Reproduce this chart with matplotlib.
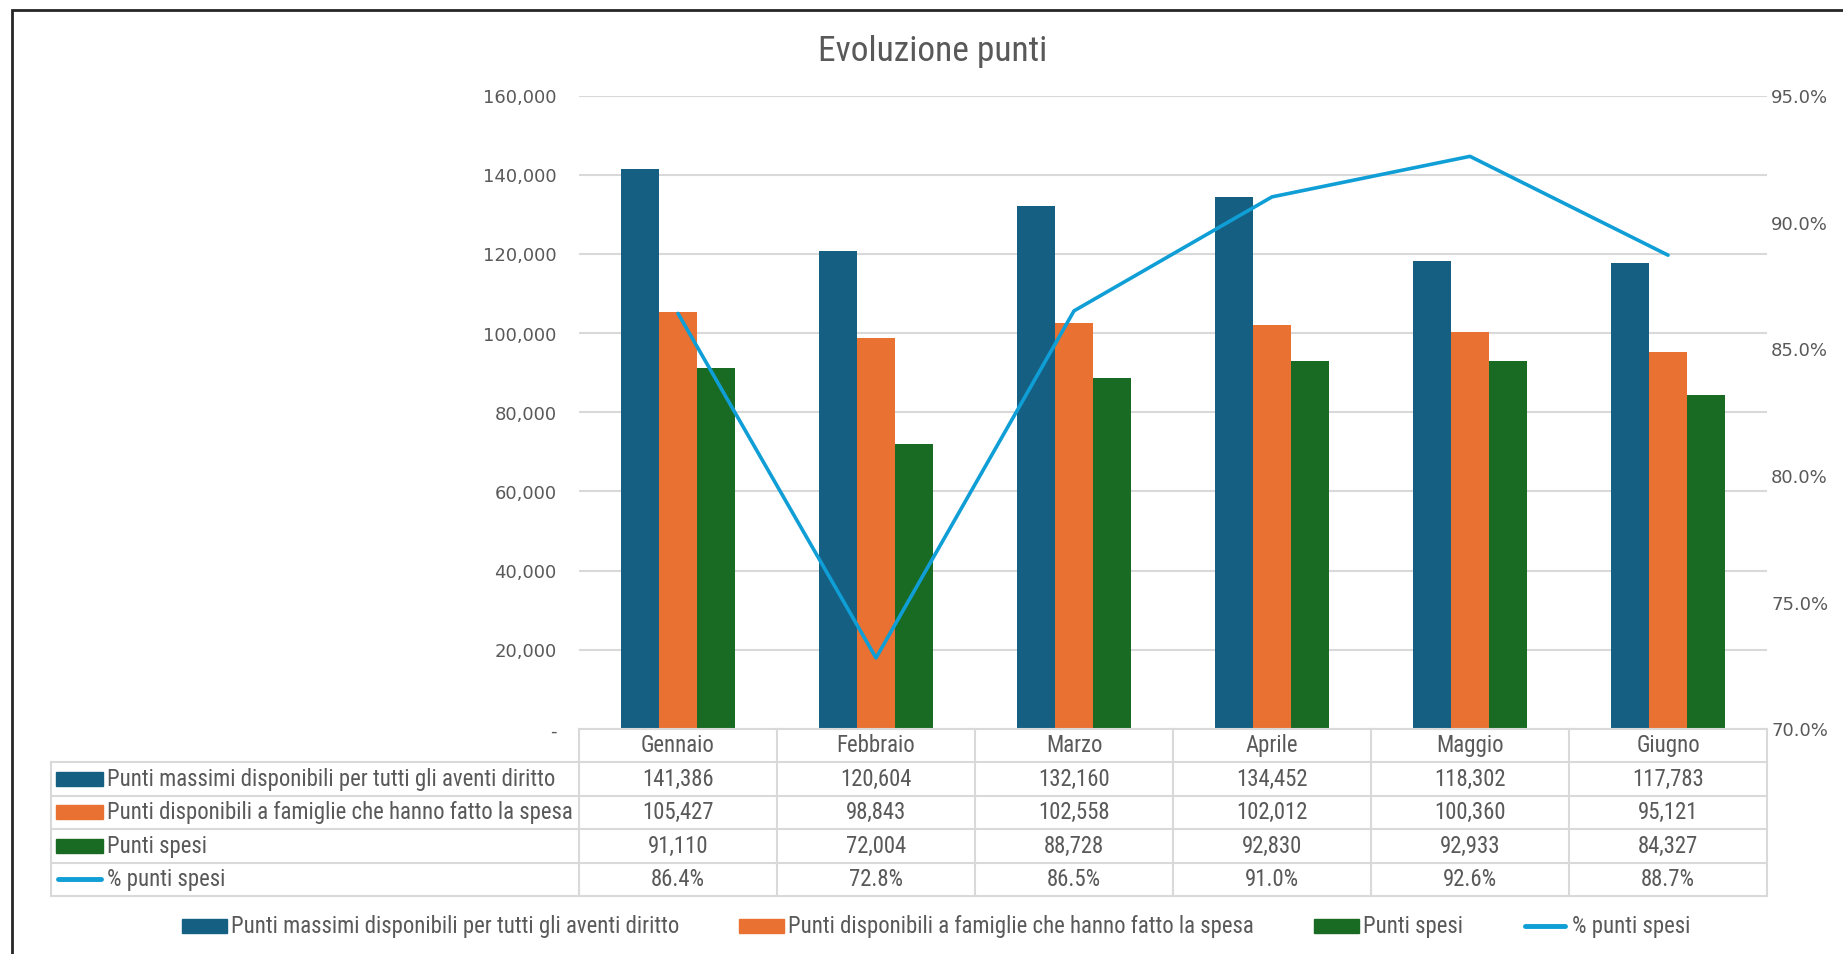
import matplotlib
matplotlib.use('Agg')
import matplotlib.pyplot as plt
from matplotlib.patches import Rectangle
from matplotlib.lines import Line2D
from matplotlib.ticker import FuncFormatter
from matplotlib import font_manager

mesi = ['Gennaio', 'Febbraio', 'Marzo', 'Aprile', 'Maggio', 'Giugno']
punti_massimi = [141386, 120604, 132160, 134452, 118302, 117783]
punti_disponibili = [105427, 98843, 102558, 102012, 100360, 95121]
punti_spesi = [91110, 72004, 88728, 92830, 92933, 84327]
perc_spesi = [86.4, 72.8, 86.5, 91.0, 92.6, 88.7]

nomi = ['Punti massimi disponibili per tutti gli aventi diritto',
        'Punti disponibili a famiglie che hanno fatto la spesa',
        'Punti spesi',
        '% punti spesi']
colori = ['#156082', '#E97132', '#196B24', '#0F9ED5']

GRIGIO = '#595959'
BORDO = '#D9D9D9'

# look for a narrow face (Excel's Aptos Narrow is not available)
narrow_file = None
trovati = sorted(f.fname for f in font_manager.fontManager.ttflist)
for chiave in ['LiberationSansNarrow-Regular', 'RobotoCondensed-Regular',
               'DejaVuSansCondensed.ttf', 'Condensed-Regular', 'Narrow']:
    for f in trovati:
        if chiave in f.split('/')[-1] and 'Bold' not in f and 'Italic' not in f \
                and 'Oblique' not in f:
            narrow_file = f
            break
    if narrow_file:
        break


def nfont(size):
    if narrow_file:
        return font_manager.FontProperties(fname=narrow_file, size=size)
    return font_manager.FontProperties(family='DejaVu Sans', size=size * 0.85)


W, H = 1843, 954
fig = plt.figure(figsize=(W / 100, H / 100 + 0.005), dpi=100)


def fx(px):
    return px / W


def fy(py):
    return 1 - py / H


def hline(x0, x1, y, color=BORDO, lw=1.5):
    fig.add_artist(Line2D([fx(x0), fx(x1)], [fy(y), fy(y)], color=color,
                          lw=lw, transform=fig.transFigure))


def vline(x, y0, y1, color=BORDO, lw=1.5):
    fig.add_artist(Line2D([fx(x), fx(x)], [fy(y0), fy(y1)], color=color,
                          lw=lw, transform=fig.transFigure))


# plot area
L, R, T, B = 579, 1767, 96, 729
ax = fig.add_axes([fx(L), fy(B), fx(R) - fx(L), fy(T) - fy(B)])

x = list(range(len(mesi)))
w = 0.1925
serie = [punti_massimi, punti_disponibili, punti_spesi]
for i, vals in enumerate(serie):
    ax.bar([k + (i - 1) * w for k in x], vals, width=w, color=colori[i],
           zorder=2)

ax.set_xlim(-0.5, len(mesi) - 0.5)
ax.set_ylim(0, 160000)
ax.set_yticks(range(0, 160001, 20000))
ax.yaxis.set_major_formatter(
    FuncFormatter(lambda v, p: '-' if v == 0 else f'{int(v):,}'))
ax.set_xticks([])
ax.grid(axis='y', color=BORDO, lw=1.5, zorder=0)
for s in ax.spines.values():
    s.set_visible(False)
ax.tick_params(axis='y', length=0, pad=16, labelsize=13, labelcolor=GRIGIO)

ax2 = ax.twinx()
ax2.plot(x, perc_spesi, color=colori[3], lw=2.6, solid_capstyle='round',
         zorder=3)
ax2.set_ylim(70, 95)
ax2.set_yticks(range(70, 96, 5))
ax2.yaxis.set_major_formatter(FuncFormatter(lambda v, p: f'{v:.1f}%'))
for s in ax2.spines.values():
    s.set_visible(False)
ax2.tick_params(axis='y', length=0, pad=3, labelsize=13, labelcolor=GRIGIO)

# title
fig.text(fx(933), fy(51), 'Evoluzione punti', ha='center', va='center',
         fontproperties=nfont(25.5), color=GRIGIO)

# data table
TL = 51
col_w = (R - L) / len(mesi)
righe_y = [729, 762, 796, 829, 863, 896]
for y in righe_y[1:]:
    hline(TL, R, y)
hline(L, R, righe_y[0])
vline(TL, righe_y[1], righe_y[-1])
for k in range(len(mesi) + 1):
    vline(L + k * col_w, righe_y[0], righe_y[-1])

FS = 16.4
for k, m in enumerate(mesi):
    cx = L + (k + 0.5) * col_w
    fig.text(fx(cx), fy((righe_y[0] + righe_y[1]) / 2), m, ha='center',
             va='center', fontproperties=nfont(FS), color=GRIGIO)

valori = [[f'{v:,}' for v in punti_massimi],
          [f'{v:,}' for v in punti_disponibili],
          [f'{v:,}' for v in punti_spesi],
          [f'{v:.1f}%' for v in perc_spesi]]
for r in range(4):
    cy = (righe_y[r + 1] + righe_y[r + 2]) / 2
    if r < 3:
        fig.add_artist(Rectangle((fx(56), fy(cy + 7)), fx(47), 14 / H,
                                 color=colori[r], transform=fig.transFigure))
    else:
        fig.add_artist(Line2D([fx(58), fx(101)], [fy(cy), fy(cy)],
                              color=colori[r], lw=3.5, solid_capstyle='round',
                              transform=fig.transFigure))
    fig.text(fx(107), fy(cy), nomi[r], ha='left', va='center',
             fontproperties=nfont(FS), color=GRIGIO)
    for k in range(len(mesi)):
        cx = L + (k + 0.5) * col_w
        fig.text(fx(cx), fy(cy), valori[r][k], ha='center', va='center',
                 fontproperties=nfont(FS), color=GRIGIO)

# legend
leg_y = 926
leg_x = [182, 739, 1314, 1523]
for i in range(4):
    x0 = leg_x[i]
    if i < 3:
        fig.add_artist(Rectangle((fx(x0), fy(leg_y + 7)), fx(45), 14 / H,
                                 color=colori[i], transform=fig.transFigure))
    else:
        fig.add_artist(Line2D([fx(x0 + 2), fx(x0 + 42)], [fy(leg_y), fy(leg_y)],
                              color=colori[i], lw=3.5, solid_capstyle='round',
                              transform=fig.transFigure))
    fig.text(fx(x0 + 49), fy(leg_y), nomi[i], ha='left', va='center',
             fontproperties=nfont(FS), color=GRIGIO)

# chart frame
fig.add_artist(Rectangle((fx(12), fy(H + 20)), fx(W + 20), (H + 10) / H,
                         fill=False, edgecolor='#262626', lw=2,
                         transform=fig.transFigure))

fig.savefig('out.png', dpi=100)
